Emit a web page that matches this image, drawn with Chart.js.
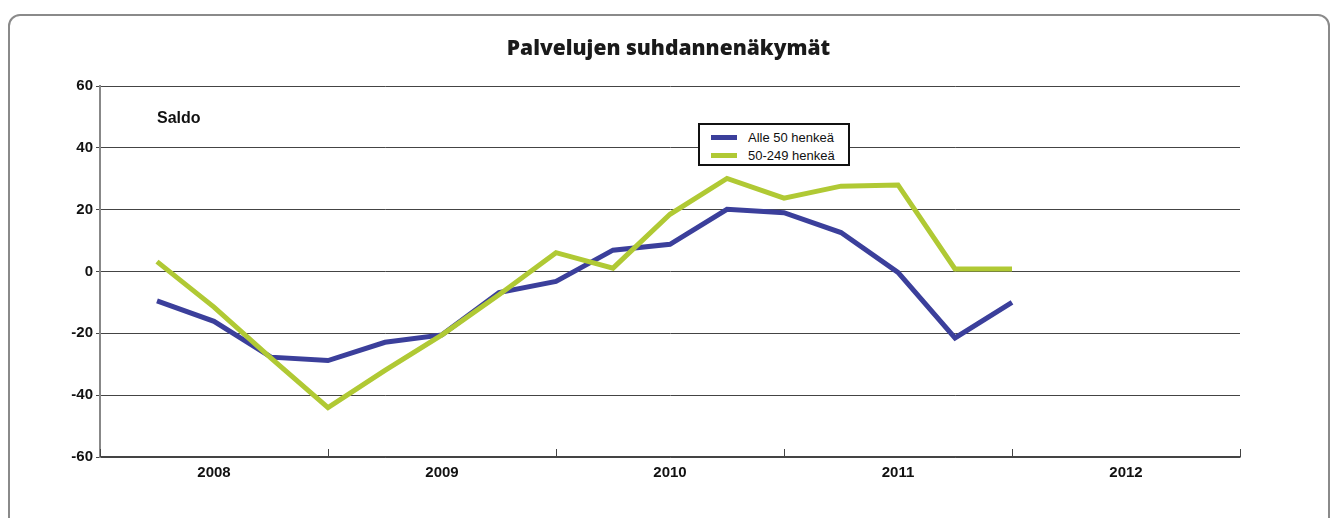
<!DOCTYPE html>
<html>
<head>
<meta charset="utf-8">
<script src="https://cdn.jsdelivr.net/npm/chart.js@4"></script>
<style>
  html, body { margin: 0; padding: 0; background: #fff; }
  body { width: 1335px; height: 518px; position: relative; overflow: hidden; font-family: "Liberation Sans", Arial, sans-serif; }
  #frame { position: absolute; left: 8px; top: 14px; width: 1322px; height: 540px; border: 2px solid #8a8a8a; border-radius: 12px; box-sizing: border-box; }
  #wrap { position: absolute; left: 0; top: 0; width: 1335px; height: 518px; }
  #title { position: absolute; left: 0; width: 1335px; top: 35px; text-align: center; font-family: "Open Sans", sans-serif; font-weight: 800; font-size: 21px; line-height: 24px; color: #1a1a1a; padding-left: 1px; }
  #saldo { position: absolute; left: 157px; top: 109px; font-weight: bold; font-size: 16px; color: #111; }
  #legend { position: absolute; left: 698px; top: 123px; width: 152px; height: 43px; box-sizing: border-box; border: 2px solid #111; background: #fff; font-size: 13px; color: #111; }
  #legend .item { position: absolute; left: 11px; height: 16px; line-height: 16px; }
  #legend .sw { display: inline-block; width: 26px; height: 5px; vertical-align: middle; margin-right: 11px; margin-top: -2px; }
</style>
</head>
<body>
<div id="frame"></div>
<div id="wrap"><canvas id="chart" width="1335" height="518"></canvas></div>
<div id="title"></div>
<div id="saldo">Saldo</div>
<div id="legend"></div>
<script>
var title = "Palvelujen suhdannenäkymät";
var years = ["2008", "2009", "2010", "2011", "2012"];
var quarters = ["2008Q1", "2008Q2", "2008Q3", "2008Q4",
                "2009Q1", "2009Q2", "2009Q3", "2009Q4",
                "2010Q1", "2010Q2", "2010Q3", "2010Q4",
                "2011Q1", "2011Q2", "2011Q3", "2011Q4"];
var alle50 = [-9.5, -16.1, -27.7, -28.8, -22.9, -20.5, -6.8, -3.2,
              6.9, 8.8, 20.1, 19.0, 12.6, -0.3, -21.5, -10.0];
var small50to249 = [3.2, -11.5, -28.0, -44.0, -32.0, -20.5, -7.5, 6.1,
                    1.1, 18.5, 30.1, 23.7, 27.6, 28.0, 0.8, 0.8];
var yTicks = [-60, -40, -20, 0, 20, 40, 60];
var seriesNames = ["Alle 50 henkeä", "50-249 henkeä"];

var blue = "#3b3f9b";
var green = "#b0c934";

function toPoints(arr) {
  return arr.map(function (v, i) { return { x: i + 1, y: v }; });
}

// small tick marks inside the plot at year boundaries
var yearTicks = {
  id: "yearTicks",
  beforeDatasetsDraw: function (chart) {
    var ctx = chart.ctx;
    var xs = chart.scales.x;
    var bottom = chart.chartArea.bottom;
    ctx.save();
    ctx.strokeStyle = "#444";
    ctx.lineWidth = 1;
    for (var i = 0; i <= years.length; i++) {
      var px = Math.round(xs.getPixelForValue(i * 4)) + 0.5;
      ctx.beginPath();
      ctx.moveTo(px, bottom);
      ctx.lineTo(px, bottom - 8);
      ctx.stroke();
    }
    ctx.restore();
  }
};

document.getElementById("title").textContent = title;

var legendEl = document.getElementById("legend");
[blue, green].forEach(function (c, i) {
  var d = document.createElement("div");
  d.className = "item";
  d.style.top = (5 + i * 18) + "px";
  d.innerHTML = '<span class="sw" style="background:' + c + '"></span>' + seriesNames[i];
  legendEl.appendChild(d);
});

var ctx = document.getElementById("chart").getContext("2d");
var chart = new Chart(ctx, {
  type: "line",
  data: {
    labels: quarters,
    datasets: [
      {
        label: seriesNames[1],
        data: toPoints(small50to249),
        borderColor: green,
        borderWidth: 5,
        pointRadius: 0,
        tension: 0,
        borderJoinStyle: "miter",
        order: 0
      },
      {
        label: seriesNames[0],
        data: toPoints(alle50),
        borderColor: blue,
        borderWidth: 5,
        pointRadius: 0,
        tension: 0,
        borderJoinStyle: "miter",
        order: 1
      }
    ]
  },
  options: {
    responsive: false,
    animation: false,
    layout: { padding: { left: 0, right: 95, top: 86, bottom: 21 } },
    plugins: {
      legend: { display: false },
      tooltip: { enabled: false },
      title: { display: false }
    },
    scales: {
      x: {
        type: "linear",
        min: 0,
        max: 20,
        afterBuildTicks: function (scale) {
          scale.ticks = years.map(function (y, i) { return { value: i * 4 + 2 }; });
        },
        afterFit: function (scale) { scale.height = 40; },
        grid: { display: false, drawTicks: false },
        border: { display: true, color: "#444", width: 1.5 },
        ticks: {
          padding: 7,
          maxRotation: 0,
          autoSkip: false,
          color: "#111",
          font: { family: "'Liberation Sans'", size: 15, weight: "bold" },
          callback: function (v) { return years[(v - 2) / 4]; }
        }
      },
      y: {
        min: -60,
        max: 60,
        afterBuildTicks: function (scale) {
          scale.ticks = yTicks.map(function (v) { return { value: v }; });
        },
        afterFit: function (scale) { scale.width = 100; },
        grid: { color: "#444", lineWidth: 1, tickLength: 4 },
        border: { display: true, color: "#888", width: 2 },
        ticks: {
          padding: 3,
          color: "#111",
          font: { family: "'Liberation Sans'", size: 15, weight: "bold" }
        }
      }
    }
  },
  plugins: [yearTicks]
});
</script>
</body>
</html>
